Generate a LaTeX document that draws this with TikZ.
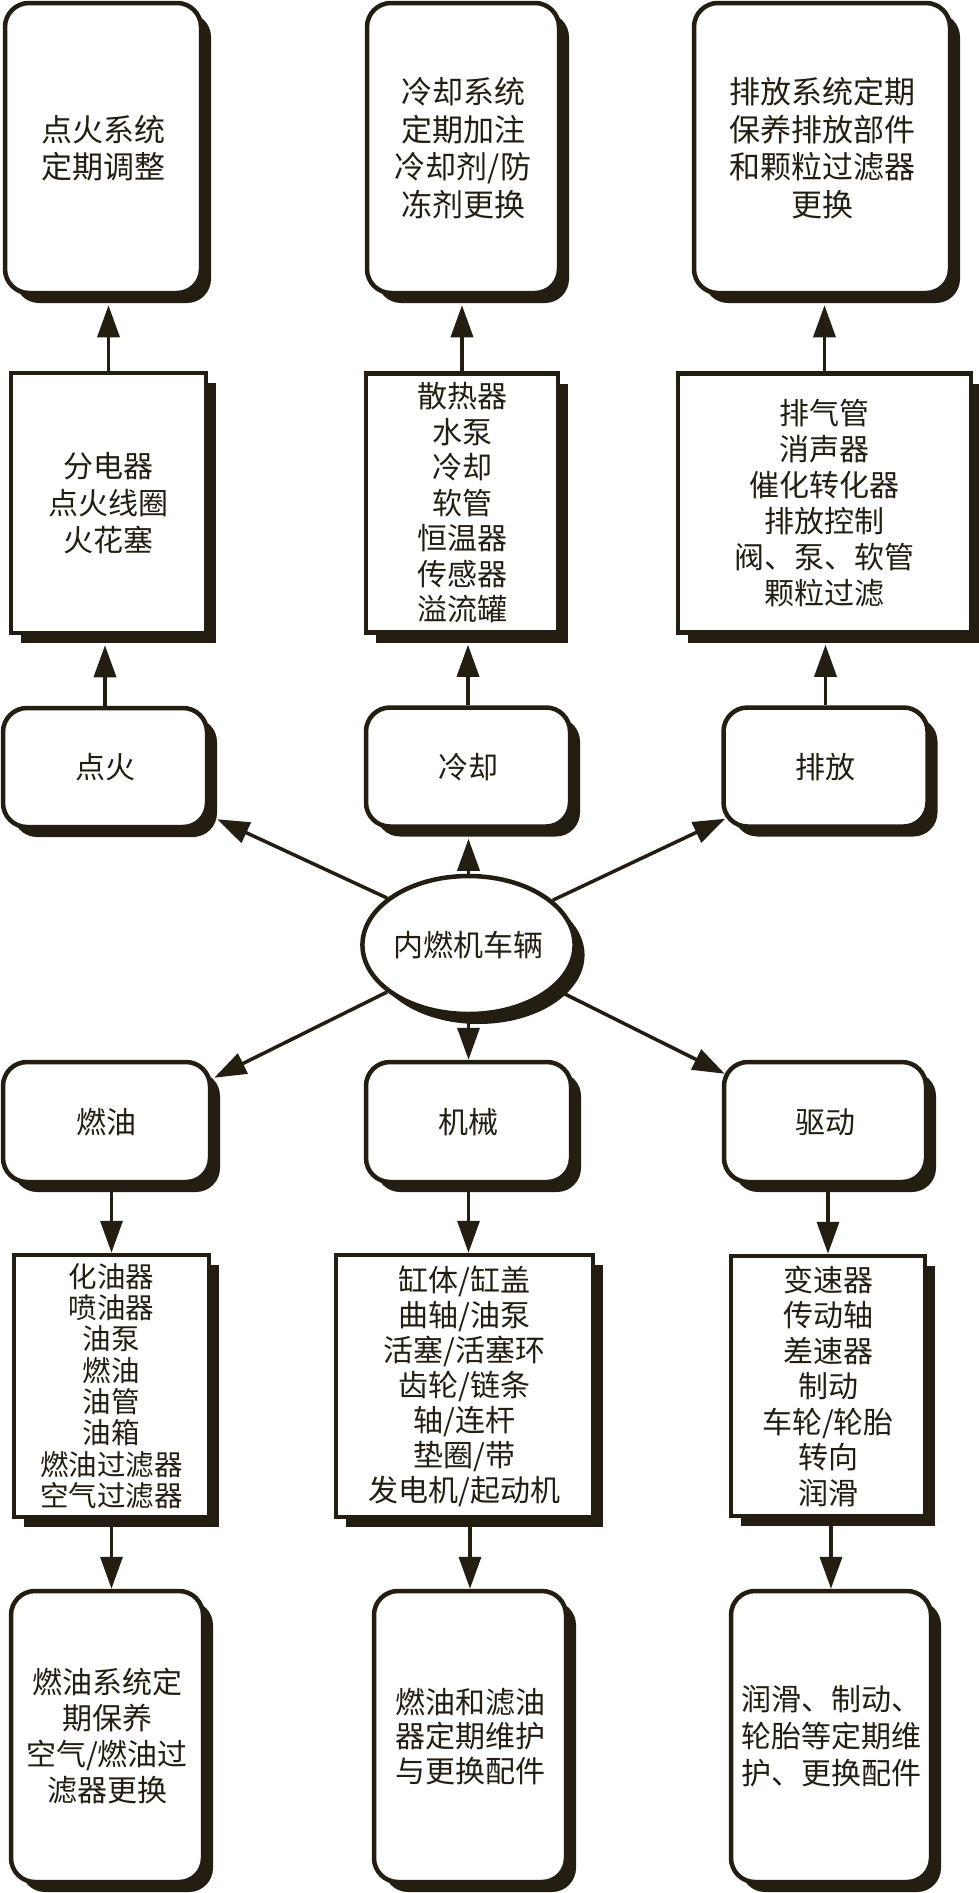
\documentclass[tikz,border=0pt]{standalone}
\usepackage{fontspec}
\setmainfont{Noto Sans CJK SC}
\usetikzlibrary{shapes.geometric,shadows,arrows.meta,calc}
\definecolor{ink}{RGB}{36,30,18}
\begin{document}
\begin{tikzpicture}[x=1pt,y=-1pt,
  shadowed/.style={drop shadow={shadow xshift=10pt,shadow yshift=-10pt,fill=ink,opacity=1}},
  basebox/.style={draw=ink,line width=4.5pt,fill=white,inner sep=0pt,align=center,text=ink,shadowed},
  resbox/.style={basebox,rounded corners=24pt,font=\fontsize{31}{37.5}\selectfont},
  compbox/.style={basebox,font=\fontsize{30}{37}\selectfont},
  catbox/.style={basebox,rounded corners=24pt,minimum width=204pt,minimum height=119pt,font=\fontsize{30}{36}\selectfont},
  hubnode/.style={basebox,ellipse,minimum width=203pt,minimum height=138pt,font=\fontsize{30}{36}\selectfont},
  arr/.style={draw=ink,line width=3.5pt,-{Triangle[length=32pt,width=22pt]}},
  uparr/.style={arr,shorten >=10pt}
]
\fill[white] (0,0) rectangle (978,1893);
\useasboundingbox (0,0) rectangle (978,1893);

% row 1: results (top)
\node[resbox,minimum width=196pt,minimum height=290pt] (r1a) at (103,148) {点火系统\\定期调整};
\node[resbox,minimum width=192pt,minimum height=290pt] (r1b) at (463,148) {冷却系统\\定期加注\\冷却剂/防\\冻剂更换};
\node[resbox,minimum width=256pt,minimum height=290pt] (r1c) at (822,148) {排放系统定期\\保养排放部件\\和颗粒过滤器\\更换};

% row 2: components (top)
\node[compbox,minimum width=195pt,minimum height=260pt] (r2a) at (108.5,503) {分电器\\点火线圈\\火花塞};
\node[compbox,minimum width=192pt,minimum height=259pt,font=\fontsize{30}{35.5}\selectfont] (r2b) at (462,503) {散热器\\水泵\\冷却\\软管\\恒温器\\传感器\\溢流罐};
\node[compbox,minimum width=293pt,minimum height=259pt,font=\fontsize{30}{36}\selectfont] (r2c) at (824.5,503) {排气管\\消声器\\催化转化器\\排放控制\\阀、泵、软管\\颗粒过滤};

% row 3: categories (top)
\node[catbox] (c1) at (105,767.5) {点火};
\node[catbox] (c2) at (468,767) {冷却};
\node[catbox] (c3) at (825.5,767) {排放};

% hub
\node[hubnode] (hub) at (468.5,945) {内燃机车辆};

% row 4: categories (bottom)
\node[catbox,minimum width=207pt,minimum height=120pt] (c4) at (106.5,1122) {燃油};
\node[catbox,minimum width=205pt,minimum height=120pt] (c5) at (468.5,1122) {机械};
\node[catbox,minimum width=202pt,minimum height=120pt] (c6) at (825,1122) {驱动};

% row 5: components (bottom)
\node[compbox,minimum width=195pt,minimum height=262pt,font=\fontsize{28.5}{31.3}\selectfont] (r5a) at (111.5,1386) {化油器\\喷油器\\油泵\\燃油\\油管\\油箱\\燃油过滤器\\空气过滤器};
\node[compbox,minimum width=257pt,minimum height=262pt,font=\fontsize{30}{35}\selectfont] (r5b) at (464.5,1386) {缸体/缸盖\\曲轴/油泵\\活塞/活塞环\\齿轮/链条\\轴/连杆\\垫圈/带\\发电机/起动机};
\node[compbox,minimum width=194pt,minimum height=260pt,font=\fontsize{30}{35.5}\selectfont] (r5c) at (828,1386) {变速器\\传动轴\\差速器\\制动\\车轮/轮胎\\转向\\润滑};

% row 6: results (bottom)
\node[resbox,minimum width=192pt,minimum height=291pt,font=\fontsize{30}{36}\selectfont] (r6a) at (107,1736.5) {燃油系统定\\期保养\\空气/燃油过\\滤器更换};
\node[resbox,minimum width=192pt,minimum height=291pt,font=\fontsize{30}{34.5}\selectfont] (r6b) at (470,1736.5) {燃油和滤油\\器定期维护\\与更换配件};
\node[resbox,minimum width=200pt,minimum height=291pt,font=\fontsize{30}{37}\selectfont] (r6c) at (831,1736.5) {润滑、制动、\\轮胎等定期维\\护、更换配件};

% vertical arrows, top half (upward)
\draw[uparr] (r2a.north) -- (r2a.north |- r1a.south);
\draw[uparr] (r2b.north) -- (r2b.north |- r1b.south);
\draw[uparr] (r2c.north) -- (r2c.north |- r1c.south);
\draw[uparr] (c1.north) -- (c1.north |- r2a.south);
\draw[uparr] (c2.north) -- (c2.north |- r2b.south);
\draw[uparr] (c3.north) -- (c3.north |- r2c.south);

% hub arrows
\draw[arr] (hub.150) -- ($(c1.south east)+(8,-10)$);
\draw[uparr] (hub.north) -- (hub.north |- c2.south);
\draw[arr] (hub.28) -- ($(c3.south west)+(4,-10)$);
\draw[arr] (hub.210) -- ($(c4.north east)+(2,18)$);
\draw[arr] (hub.south) -- (hub.south |- c5.north);
\draw[arr] (hub.333) -- ($(c6.north west)+(3,14)$);

% vertical arrows, bottom half (downward)
\draw[arr] (r5a.north |- c4.south) -- (r5a.north);
\draw[arr] (c5.south) -- (c5.south |- r5b.north);
\draw[arr] (r5c.north |- c6.south) -- (r5c.north);
\draw[arr] (r5a.south) -- (r5a.south |- r6a.north);
\draw[arr] (r6b.north |- r5b.south) -- (r6b.north);
\draw[arr] (r6c.north |- r5c.south) -- (r6c.north);
\end{tikzpicture}
\end{document}
